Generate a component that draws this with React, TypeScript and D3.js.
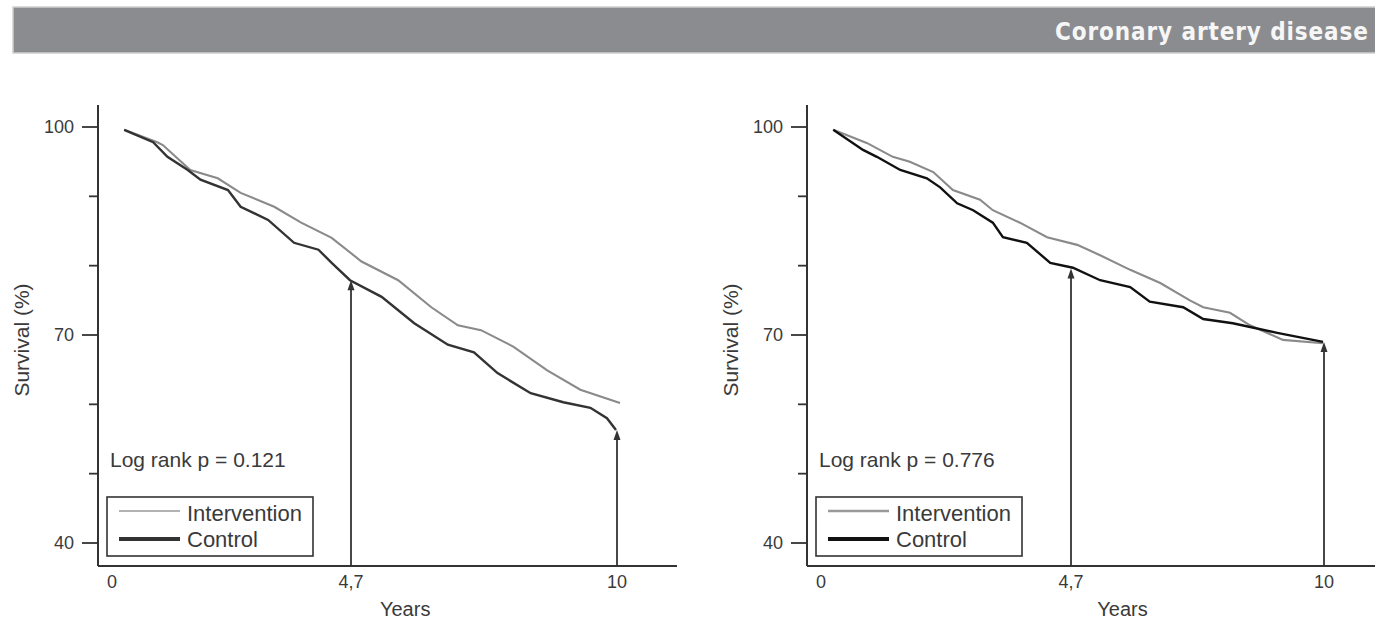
import React from "react";
import * as d3 from "d3";

// survival curves, [years, survival %]
const leftControl: [number, number][] = [
  [0.24, 99.6], [0.81, 97.8], [1.09, 95.7], [1.49, 93.8], [1.74, 92.4], [2.28, 90.9],
  [2.53, 88.5], [3.07, 86.6], [3.58, 83.3], [4.06, 82.3], [4.32, 80.4], [4.68, 77.9],
  [5.31, 75.5], [5.96, 71.7], [6.63, 68.6], [7.15, 67.5], [7.62, 64.5], [8.28, 61.6],
  [8.93, 60.3], [9.47, 59.5], [9.8, 58.0], [9.98, 56.3],
];
const leftIntervention: [number, number][] = [
  [0.24, 99.6], [0.89, 97.8], [1.0, 97.4], [1.54, 93.8], [2.08, 92.6], [2.53, 90.5],
  [3.19, 88.5], [3.72, 86.2], [4.32, 84.0], [4.91, 80.6], [5.64, 77.9], [6.3, 74.0],
  [6.83, 71.4], [7.29, 70.7], [7.94, 68.3], [8.61, 64.9], [9.27, 62.1], [10.06, 60.2],
];
const rightControl: [number, number][] = [
  [0.23, 99.6], [0.79, 96.7], [1.05, 95.7], [1.49, 93.8], [1.99, 92.6], [2.24, 91.3],
  [2.56, 89.0], [2.86, 88.0], [3.23, 86.2], [3.42, 84.1], [3.87, 83.3], [4.31, 80.4],
  [4.74, 79.7], [5.31, 77.9], [5.94, 76.9], [6.35, 74.8], [7.05, 74.0], [7.47, 72.3],
  [8.09, 71.7], [9.02, 70.3], [9.98, 69.0],
];
const rightIntervention: [number, number][] = [
  [0.23, 99.6], [0.86, 97.7], [1.35, 95.7], [1.67, 95.0], [2.11, 93.5], [2.48, 90.9],
  [2.99, 89.5], [3.23, 88.0], [3.74, 86.2], [4.25, 84.1], [4.83, 83.0], [5.31, 81.5],
  [5.94, 79.4], [6.57, 77.5], [7.19, 75.0], [7.47, 74.0], [8.03, 73.2], [8.45, 71.4],
  [9.14, 69.3], [9.98, 68.8],
];

const yTicks = [100, 90, 80, 70, 60, 50, 40];
const yLabelTicks = [100, 70, 40];
const xTicks = [0, 4.7, 10];
const xTickLabels = ["0", "4,7", "10"];
const arrowTimes = [4.7, 10];
const leftArrowValues = [77.9, 56.3];
const rightArrowValues = [79.6, 69.0];
const seriesNames = ["Intervention", "Control"];
const pValues = ["0.121", "0.776"];

const font = "'Liberation Sans', Arial, sans-serif";
const ink = "#333";
const textInk = "#3a3a3a";

type PanelProps = {
  axisX: number;
  axisEnd: number;
  xRange: number[];
  control: [number, number][];
  intervention: [number, number][];
  arrowValues: number[];
  pValue: string;
  controlColor: string;
  legendIntW: number;
};

function Panel(p: PanelProps) {
  const top = 105;
  const bottom = 566;
  const x = d3.scaleLinear().domain(xTicks).range(p.xRange);
  const y = d3.scaleLinear().domain([40, 100]).range([543, 127]);
  const line = d3
    .line<[number, number]>()
    .x((d) => x(d[0]))
    .y((d) => y(d[1]))
    .curve(d3.curveLinear);

  const legX = p.axisX + 9;
  const legY = 497;
  const legW = 206;

  return (
    <g fontFamily={font}>
      {/* y axis */}
      <line x1={p.axisX} x2={p.axisX} y1={top} y2={bottom} stroke={ink} strokeWidth={2} />
      {yTicks.map((t) => {
        const major = yLabelTicks.includes(t);
        return (
          <g key={t}>
            <line
              x1={p.axisX - (major ? 16 : 9)}
              x2={p.axisX}
              y1={y(t)}
              y2={y(t)}
              stroke={ink}
              strokeWidth={1.8}
            />
            {major && (
              <text
                x={p.axisX - 24}
                y={y(t)}
                dy="0.35em"
                textAnchor="end"
                fontSize={18}
                fill={textInk}
              >
                {t}
              </text>
            )}
          </g>
        );
      })}
      <text
        transform={`translate(${p.axisX - 76},340) rotate(-90)`}
        textAnchor="middle"
        dy="0.35em"
        fontSize={21}
        fill={textInk}
      >
        Survival (%)
      </text>

      {/* x axis */}
      <line x1={p.axisX} x2={p.axisEnd} y1={bottom} y2={bottom} stroke={ink} strokeWidth={2} />
      {xTicks.map((t, i) => (
        <text key={t} x={x(t)} y={588} textAnchor="middle" fontSize={18} fill={textInk}>
          {xTickLabels[i]}
        </text>
      ))}
      <text x={x(5.78)} y={616} textAnchor="middle" fontSize={20} fill={textInk}>
        Years
      </text>

      {/* curves */}
      <path d={line(p.intervention) || ""} fill="none" stroke="#8a8a8a" strokeWidth={2.1} />
      <path d={line(p.control) || ""} fill="none" stroke={p.controlColor} strokeWidth={2.4} />

      {/* arrows */}
      {arrowTimes.map((t, i) => {
        const ax = x(t);
        const ay = y(p.arrowValues[i]);
        return (
          <g key={t}>
            <line x1={ax} x2={ax} y1={bottom} y2={ay + 4} stroke={ink} strokeWidth={1.8} />
            <path d={`M${ax},${ay} L${ax - 3.5},${ay + 10} L${ax + 3.5},${ay + 10} Z`} fill={ink} />
          </g>
        );
      })}

      {/* log rank + legend */}
      <text x={p.axisX + 12} y={467} fontSize={21} fill={textInk}>
        Log rank p = {p.pValue}
      </text>
      <rect x={legX} y={legY} width={legW} height={59} fill="white" stroke={ink} strokeWidth={1.6} />
      <line x1={legX + 12} x2={legX + 73} y1={legY + 14} y2={legY + 14} stroke="#999" strokeWidth={p.legendIntW} />
      <line x1={legX + 12} x2={legX + 73} y1={legY + 42} y2={legY + 42} stroke={p.controlColor} strokeWidth={4} />
      <text x={legX + 80} y={legY + 24} fontSize={22} fill={textInk}>
        {seriesNames[0]}
      </text>
      <text x={legX + 80} y={legY + 50} fontSize={22} fill={textInk}>
        {seriesNames[1]}
      </text>
    </g>
  );
}

export default function App() {
  return (
    <svg
      width={1375}
      height={623}
      style={{ position: "absolute", left: 0, top: 0, background: "white" }}
    >
      <rect x={13} y={7} width={1364} height={46} fill="#8b8c8f" stroke="#d0d0d0" strokeWidth={1.5} />
      <text
        x={1055}
        y={40}
        textLength={313}
        fontFamily="'DejaVu Sans Condensed', 'DejaVu Sans', sans-serif"
        fontWeight="bold"
        fontSize={24}
        fill="#f6f6f6"
      >
        Coronary artery disease
      </text>

      <Panel
        axisX={98}
        axisEnd={677}
        xRange={[112, 351, 617]}
        control={leftControl}
        intervention={leftIntervention}
        arrowValues={leftArrowValues}
        pValue={pValues[0]}
        controlColor="#333"
        legendIntW={1.6}
      />
      <Panel
        axisX={807}
        axisEnd={1375}
        xRange={[821, 1071, 1324]}
        control={rightControl}
        intervention={rightIntervention}
        arrowValues={rightArrowValues}
        pValue={pValues[1]}
        controlColor="#111"
        legendIntW={2.6}
      />
    </svg>
  );
}
